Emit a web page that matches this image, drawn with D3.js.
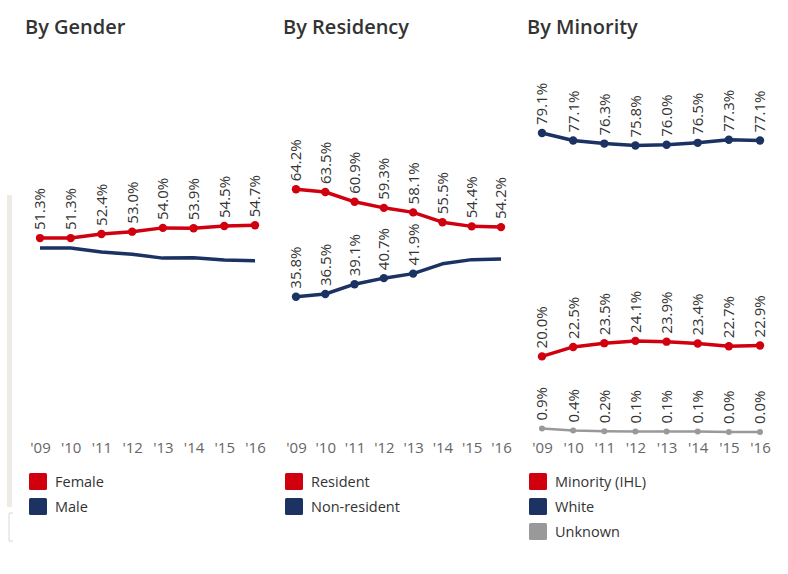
<!DOCTYPE html>
<html><head><meta charset="utf-8">
<script src="https://cdn.jsdelivr.net/npm/d3@7"></script>
<style>
body{margin:0;background:#fff;}
svg{display:block;font-family:"Open Sans",sans-serif;}
</style></head>
<body><svg id="c" width="788" height="574"></svg>
<script>
const years = ["'09","'10","'11","'12","'13","'14","'15","'16"];
const female = [51.3,51.3,52.4,53.0,54.0,53.9,54.5,54.7];
const male = [48.7,48.7,47.6,47.0,46.0,46.1,45.5,45.3];
const resident = [64.2,63.5,60.9,59.3,58.1,55.5,54.4,54.2];
const nonResident = [35.8,36.5,39.1,40.7,41.9,44.5,45.6,45.8];
const minority = [20.0,22.5,23.5,24.1,23.9,23.4,22.7,22.9];
const white = [79.1,77.1,76.3,75.8,76.0,76.5,77.3,77.1];
const unknown = [0.9,0.4,0.2,0.1,0.1,0.1,0.0,0.0];

const RED="#d0000f", NAVY="#1b3263", GRAY="#999999";

const panels = [
  {title:"By Gender", tx:25, x0:40, x1:255, lx:29,
   series:[{name:"Female",vals:female,color:RED,labels:8},
           {name:"Male",vals:male,color:NAVY,labels:0}]},
  {title:"By Residency", tx:283, x0:296, x1:501, lx:285,
   series:[{name:"Resident",vals:resident,color:RED,labels:8},
           {name:"Non-resident",vals:nonResident,color:NAVY,labels:5}]},
  {title:"By Minority", tx:527, x0:542, x1:760, lx:529,
   series:[{name:"Minority (IHL)",vals:minority,color:RED,labels:8},
           {name:"White",vals:white,color:NAVY,labels:8},
           {name:"Unknown",vals:unknown,color:GRAY,labels:8,thin:true}]}
];

const svg = d3.select("#c");
// faint remnant strip at left edge
svg.append("rect").attr("x",7).attr("y",195).attr("width",5).attr("height",312).attr("fill","#eeebe5");
svg.append("path").attr("d","M13,513 H9 V541 H13").attr("fill","none").attr("stroke","#d8d8d8");

const y = d3.scaleLinear().domain([0,100]).range([432,54]);

panels.forEach(p=>{
  const g = svg.append("g");
  g.append("text").attr("x",p.tx).attr("y",34).text(p.title)
   .attr("font-size",20).attr("font-weight",600).attr("fill","#333");
  const x = d3.scalePoint().domain(years).range([p.x0,p.x1]);
  // axis labels
  const ax = g.append("g").attr("transform","translate(0,453)")
    .call(d3.axisBottom(x).tickSize(0).tickPadding(0));
  ax.select(".domain").remove();
  ax.selectAll("text").attr("font-family","Open Sans, sans-serif").attr("font-size",15).attr("fill","#666").attr("dy","0");
  const line = d3.line().x((d,i)=>x(years[i])).y(d=>y(d));
  p.series.forEach(s=>{
    g.append("path").datum(s.vals).attr("d",line).attr("fill","none")
     .attr("stroke",s.color).attr("stroke-width",s.thin?2.5:3.5).attr("stroke-linejoin","round");
    const pts = s.vals.slice(0,s.labels);
    g.selectAll(null).data(pts).enter().append("circle")
     .attr("cx",(d,i)=>x(years[i])).attr("cy",d=>y(d)).attr("r",s.thin?3:4.2).attr("fill",s.color);
    g.selectAll(null).data(pts).enter().append("text")
     .attr("transform",(d,i)=>`translate(${x(years[i])},${y(d)-8}) rotate(-90)`)
     .attr("dy","0.36em").attr("font-size",15).attr("fill","#333")
     .text(d=>d.toFixed(1)+"%");
  });
  // legend
  p.series.forEach((s,i)=>{
    const ly = 473 + i*25;
    g.append("rect").attr("x",p.lx).attr("y",ly).attr("width",18).attr("height",17).attr("rx",1.5).attr("fill",s.color);
    g.append("text").attr("x",p.lx+26).attr("y",ly+8.5).attr("dy","0.35em")
     .attr("font-size",14.5).attr("fill","#333").text(s.name);
  });
});
</script></body></html>
